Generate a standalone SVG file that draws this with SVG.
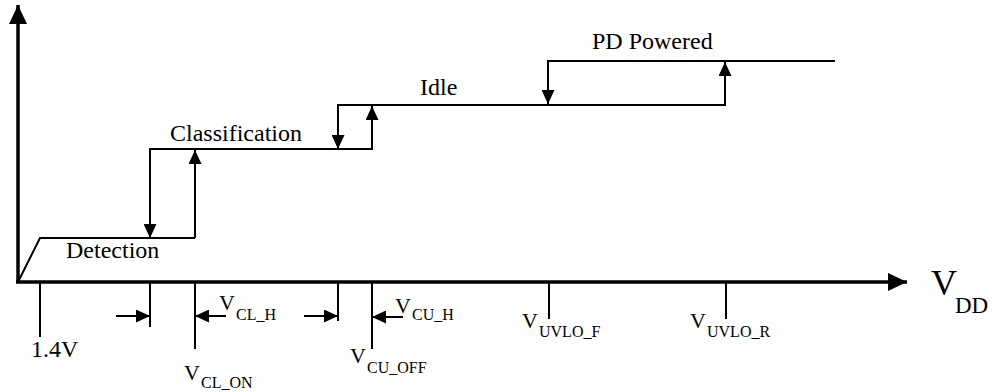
<svg xmlns="http://www.w3.org/2000/svg" width="992" height="392" viewBox="0 0 992 392">
<defs>
<marker id="ah" markerUnits="userSpaceOnUse" markerWidth="14" markerHeight="13" refX="14" refY="6.5" orient="auto">
<path d="M0,0 L14,6.5 L0,13 z" fill="#000"/>
</marker>
<marker id="big" markerUnits="userSpaceOnUse" markerWidth="19" markerHeight="18" refX="19" refY="9" orient="auto">
<path d="M0,0 L19,9 L0,18 z" fill="#000"/>
</marker>
</defs>
<style>
.ln{fill:none;stroke:#000;stroke-width:2}
.ax{fill:none;stroke:#000;stroke-width:3.5}
text{font-family:'Liberation Serif','DejaVu Serif',serif;fill:#000}
.t{font-size:24px}
.v{font-size:22px}
.s{font-size:16px}
</style>
<rect width="992" height="392" fill="#fff"/>
<g id="axes">
<line class="ax" x1="18" y1="283" x2="18" y2="5" marker-end="url(#big)"/>
<line class="ax" x1="16" y1="282" x2="907" y2="282" marker-end="url(#big)"/>
</g>
<g id="connectors">
<polyline class="ln" points="18,282 40,238 195,238"/>
<line class="ln" x1="195" y1="238" x2="195" y2="150" marker-end="url(#ah)"/>
<line class="ln" x1="150" y1="149" x2="150" y2="238" marker-end="url(#ah)"/>
<line class="ln" x1="149" y1="149" x2="373" y2="149"/>
<line class="ln" x1="372" y1="149" x2="372" y2="106" marker-end="url(#ah)"/>
<line class="ln" x1="338" y1="105" x2="338" y2="149" marker-end="url(#ah)"/>
<line class="ln" x1="337" y1="105" x2="726" y2="105"/>
<line class="ln" x1="725" y1="105" x2="725" y2="62" marker-end="url(#ah)"/>
<line class="ln" x1="548" y1="61" x2="548" y2="104" marker-end="url(#ah)"/>
<line class="ln" x1="547" y1="61" x2="835" y2="61"/>
<line class="ln" x1="40" y1="282" x2="40" y2="337"/>
<line class="ln" x1="150" y1="282" x2="150" y2="327"/>
<line class="ln" x1="195" y1="282" x2="195" y2="349"/>
<line class="ln" x1="338" y1="282" x2="338" y2="321"/>
<line class="ln" x1="372" y1="282" x2="372" y2="349"/>
<line class="ln" x1="549" y1="282" x2="549" y2="319"/>
<line class="ln" x1="726" y1="282" x2="726" y2="319"/>
<line class="ln" x1="116" y1="316" x2="150" y2="316" marker-end="url(#ah)"/>
<line class="ln" x1="226" y1="316" x2="195" y2="316" marker-end="url(#ah)"/>
<line class="ln" x1="304" y1="316" x2="338" y2="316" marker-end="url(#ah)"/>
<line class="ln" x1="403" y1="317" x2="372" y2="317" marker-end="url(#ah)"/>
</g>
<g id="detection"><text class="t" x="66" y="258">Detection</text></g>
<g id="classification"><text class="t" x="170" y="141">Classification</text></g>
<g id="idle"><text class="t" x="420" y="95">Idle</text></g>
<g id="pd-powered"><text class="t" x="592" y="49">PD Powered</text></g>
<g id="label-14v"><text class="t" x="31" y="357">1.4V</text></g>
<g id="label-vcl-h"><text class="v" x="219" y="310">V</text><text class="s" x="236" y="320">CL_H</text></g>
<g id="label-vcl-on"><text class="v" x="184" y="380">V</text><text class="s" x="201" y="388">CL_ON</text></g>
<g id="label-vcu-h"><text class="v" x="395" y="313">V</text><text class="s" x="412" y="320">CU_H</text></g>
<g id="label-vcu-off"><text class="v" x="350" y="363">V</text><text class="s" x="367" y="373">CU_OFF</text></g>
<g id="label-vuvlo-f"><text class="v" x="522" y="328">V</text><text class="s" x="539" y="337">UVLO_F</text></g>
<g id="label-vuvlo-r"><text class="v" x="690" y="328">V</text><text class="s" x="707" y="337">UVLO_R</text></g>
<g id="label-vdd"><text style="font-size:36px" x="931" y="295">V</text><text style="font-size:23px" x="955" y="313">DD</text></g>
</svg>
